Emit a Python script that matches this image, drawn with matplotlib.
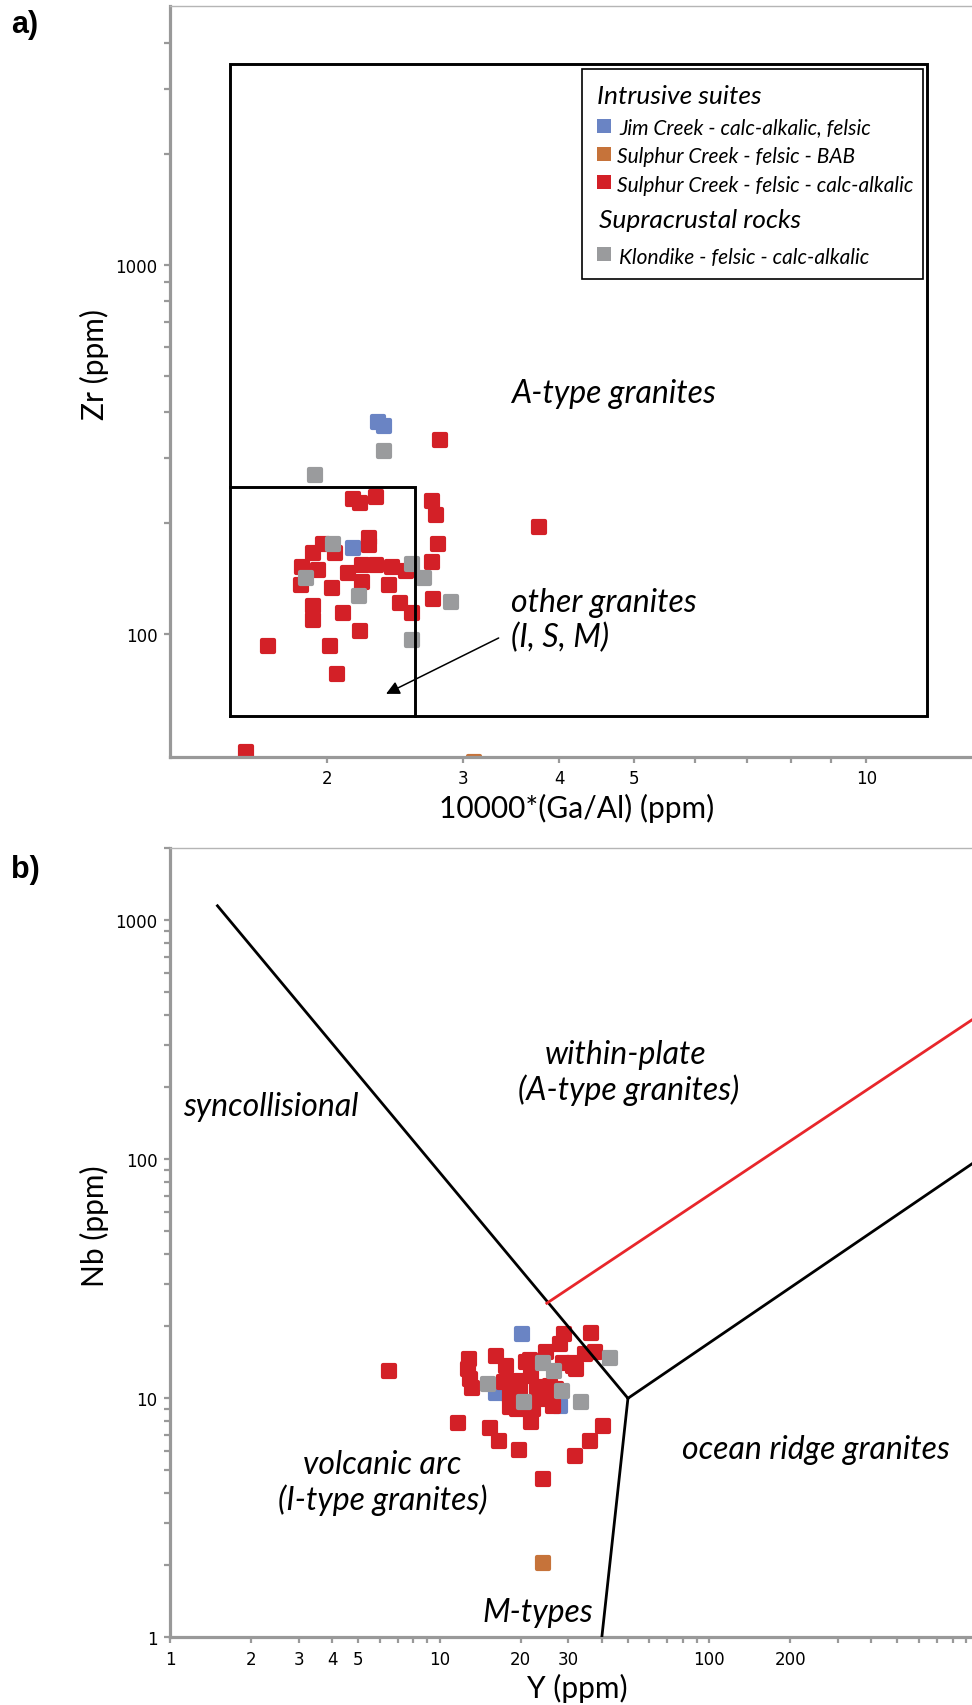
import matplotlib
matplotlib.use('Agg')
import matplotlib.pyplot as plt
from matplotlib.markers import MarkerStyle
from matplotlib.patches import Rectangle
from matplotlib.lines import Line2D
from matplotlib.ticker import NullFormatter

W, H = 972, 1706

# colores de cada grupo
c_jim = '#6A84C4'
c_bab = '#C6733A'
c_calc = '#D32027'
c_klon = '#9A9B9D'
gris_eje = '#999999'

# ---------------- panel a: Zr vs 10000*Ga/Al ----------------
a_jim_x = [2.33, 2.37, 2.16]
a_jim_y = [375, 366, 171]
a_bab_x = [3.10]
a_bab_y = [45]
a_calc_x = [2.80, 2.16, 2.21, 2.32, 2.74, 2.77, 2.27, 2.27, 1.98, 1.92, 2.05, 2.79,
            2.74, 1.86, 1.95, 2.13, 2.22, 2.32, 2.43, 2.53, 1.85, 2.03, 2.22, 2.41,
            2.49, 2.58, 2.75, 1.92, 1.92, 2.10, 2.21, 2.02, 1.68, 2.06, 1.57, 3.77]
a_calc_y = [336, 232, 226, 235, 229, 210, 182, 174, 175, 166, 166, 175,
            157, 152, 149, 146, 154, 154, 152, 148, 136, 133, 138, 136,
            121, 114, 124, 119, 109, 114, 102, 93, 93, 78, 48, 195]
a_klon_x = [2.375, 1.93, 2.04, 1.88, 2.20, 2.58, 2.67, 2.90, 2.58]
a_klon_y = [313, 269, 175, 142, 127, 155, 142, 122, 96.5]

# campos de Whalen
caja_grande_x = [1.5, 12, 12, 1.5, 1.5]
caja_grande_y = [60, 60, 3500, 3500, 60]
caja_chica_x = [1.5, 2.6, 2.6]
caja_chica_y = [250, 250, 60]

# ---------------- panel b: Nb vs Y ----------------
b_jim_x = [20.3, 16.2, 27.9]
b_jim_y = [18.5, 10.5, 9.26]
b_bab_x = [24.2]
b_bab_y = [2.05]
b_calc_x = [6.48, 36.4, 29.0, 27.9, 37.6, 12.9, 12.7, 13.0, 13.2, 16.2, 17.6, 20.9,
            21.6, 24.9, 31.3, 34.6, 32.2, 28.7, 31.3, 17.4, 19.3, 21.9, 22.9, 25.6,
            27.1, 19.8, 23.4, 18.2, 18.2, 19.3, 22.2, 24.9, 26.35, 21.9, 11.7, 15.4,
            16.6, 19.65, 40.4, 36.1, 31.9, 24.2]
b_calc_y = [13.05, 18.8, 18.6, 16.9, 15.6, 14.6, 13.3, 12.0, 11.0, 15.0, 13.7, 14.2,
            14.4, 15.6, 14.1, 15.3, 13.3, 14.1, 13.7, 11.7, 11.85, 12.4, 11.1, 11.3,
            10.9, 10.8, 10.4, 10.25, 9.17, 9.0, 9.02, 9.93, 9.31, 7.94, 7.88, 7.49,
            6.65, 6.09, 7.68, 6.65, 5.72, 4.59]
b_klon_x = [42.8, 15.1, 24.1, 26.5, 20.5, 28.55, 33.6]
b_klon_y = [14.8, 11.5, 14.1, 13.05, 9.62, 10.76, 9.62]

# limites de Pearce et al.
linea_syncol_x = [1.5, 50]
linea_syncol_y = [1150, 10]
linea_orv_x = [50, 40]
linea_orv_y = [10, 1]
linea_wpg_x = [50, 1000]
linea_wpg_y = [10, 100]
linea_roja_x = [25, 1000]
linea_roja_y = [25, 400]


def fig_xy(px, py):
    return px / W, 1 - py / H


cuadro = MarkerStyle('s', joinstyle='round')


def puntos(ax, x, y, color):
    ax.plot(x, y, ls='none', marker=cuadro, ms=9, mew=3, color=color, mec=color,
            zorder=2, clip_on=True)


def estilo_ejes(ax):
    for s in ['left', 'bottom']:
        ax.spines[s].set_color(gris_eje)
        ax.spines[s].set_linewidth(2.3)
    ax.spines['top'].set_color('#b5b5b5')
    ax.spines['top'].set_linewidth(1.0)
    ax.spines['right'].set_visible(False)
    ax.tick_params(which='both', direction='out', length=4, width=1.6, color=gris_eje,
                   labelsize=12, labelcolor='black', pad=5)
    ax.xaxis.set_minor_formatter(NullFormatter())
    ax.yaxis.set_minor_formatter(NullFormatter())


fig = plt.figure(figsize=(W / 100, H / 100), dpi=100)

# ======================= panel a =======================
ax_a = fig.add_axes([170 / W, 1 - 758 / H, (W - 170) / W, (758 - 7) / H])
ax_a.set_xscale('log')
ax_a.set_yscale('log')
ax_a.set_xlim(1.253, 13.71)
ax_a.set_ylim(46.4, 5030)

puntos(ax_a, a_jim_x, a_jim_y, c_jim)
puntos(ax_a, a_bab_x, a_bab_y, c_bab)
puntos(ax_a, a_calc_x, a_calc_y, c_calc)
puntos(ax_a, a_klon_x, a_klon_y, c_klon)

ax_a.plot(caja_grande_x, caja_grande_y, color='black', lw=2.1, zorder=3,
          solid_joinstyle='miter')
ax_a.plot(caja_chica_x, caja_chica_y, color='black', lw=2.1, zorder=3,
          solid_joinstyle='miter')

ax_a.set_xticks([2, 3, 4, 5, 10], ['2', '3', '4', '5', '10'])
ax_a.set_xticks([6, 7, 8, 9], minor=True)
ax_a.set_yticks([100, 1000], ['100', '1000'])
ax_a.set_yticks([200, 300, 400, 500, 600, 700, 800, 900, 2000, 3000, 4000], minor=True)
estilo_ejes(ax_a)

tf = dict(family='Lato', style='italic', size=23, color='black')
ax_a.text(3.47, 450, 'A-type granites', ha='left', va='center', **tf)
ax_a.text(3.47, 122, 'other granites', ha='left', va='center', **tf)
ax_a.text(3.47, 98, '(I, S, M)', ha='left', va='center', **tf)
ax_a.annotate('', xy=(2.387, 68.8), xytext=(3.34, 97.5),
              arrowprops=dict(arrowstyle='-|>', color='black', lw=1.1,
                              mutation_scale=20, shrinkA=0, shrinkB=0), zorder=4)

# leyenda dibujada a mano
x0, y0 = fig_xy(581.7, 280)
fig.add_artist(Rectangle((x0, y0), (922.7 - 581.7) / W, (280 - 70) / H,
                         transform=fig.transFigure, facecolor='white',
                         edgecolor='black', lw=1.2, zorder=5))
fig.text(*fig_xy(597, 104), 'Intrusive suites', family='Lato', style='italic',
         size=19, va='baseline', zorder=6)
fig.text(*fig_xy(598.7, 228.3), 'Supracrustal rocks', family='Lato', style='italic',
         size=19, va='baseline', zorder=6)
entradas = [(c_jim, 'Jim Creek - calc-alkalic, felsic', 127, 134.3, 619.3),
            (c_bab, 'Sulphur Creek - felsic - BAB', 154.7, 163.3, 617),
            (c_calc, 'Sulphur Creek - felsic - calc-alkalic', 183.3, 191.7, 617),
            (c_klon, 'Klondike - felsic - calc-alkalic', 254.7, 264, 619.3)]
for col, etiqueta, ym, yb, xt in entradas:
    fx, fy = fig_xy(604.3, ym)
    fig.add_artist(Line2D([fx], [fy], transform=fig.transFigure, ls='none',
                          marker=MarkerStyle('s', joinstyle='miter'), ms=10.5, mew=0,
                          color=col, zorder=6))
    fig.text(*fig_xy(xt, yb), etiqueta, family='Lato', style='italic', size=15,
             va='baseline', zorder=6)

# ======================= panel b =======================
ax_b = fig.add_axes([170 / W, 1 - 1638.3 / H, (W - 170) / W, (1638.3 - 849) / H])
ax_b.set_xscale('log')
ax_b.set_yscale('log')
ax_b.set_xlim(1, 945)
ax_b.set_ylim(1, 2007)

puntos(ax_b, b_jim_x, b_jim_y, c_jim)
puntos(ax_b, b_bab_x, b_bab_y, c_bab)
puntos(ax_b, b_calc_x, b_calc_y, c_calc)
puntos(ax_b, b_klon_x, b_klon_y, c_klon)

for lx, ly in [(linea_syncol_x, linea_syncol_y), (linea_orv_x, linea_orv_y),
               (linea_wpg_x, linea_wpg_y)]:
    ax_b.plot(lx, ly, color='black', lw=2.0, zorder=3)
ax_b.plot(linea_roja_x, linea_roja_y, color='#E8262B', lw=2.0, zorder=3)

ax_b.set_xticks([1, 2, 3, 4, 5, 10, 20, 30, 100, 200],
                ['1', '2', '3', '4', '5', '10', '20', '30', '100', '200'])
ax_b.set_xticks([6, 7, 8, 9, 40, 50, 60, 70, 80, 90, 300, 400, 500, 600, 700, 800, 900],
                minor=True)
ax_b.set_yticks([1, 10, 100, 1000], ['1', '10', '100', '1000'])
ax_b.set_yticks([2, 3, 4, 5, 6, 7, 8, 9, 20, 30, 40, 50, 60, 70, 80, 90,
                 200, 300, 400, 500, 600, 700, 800, 900, 2000], minor=True)
estilo_ejes(ax_b)

ax_b.text(1.12, 167.6, 'syncollisional', ha='left', va='center', **tf)
ax_b.text(49.1, 275.8, 'within-plate', ha='center', va='center', **tf)
ax_b.text(50.4, 197, '(A-type granites)', ha='center', va='center', **tf)
ax_b.text(79.6, 6.14, 'ocean ridge granites', ha='left', va='center', **tf)
ax_b.text(6.14, 5.31, 'volcanic arc', ha='center', va='center', **tf)
ax_b.text(6.14, 3.79, '(I-type granites)', ha='center', va='center', **tf)
ax_b.text(23.2, 1.276, 'M-types', ha='center', va='center', **tf)

# rotulos de ejes y de paneles
fl = dict(family='Lato', size=21.5, color='black')
fig.text(*fig_xy(577, 808), '10000*(Ga/Al) (ppm)', ha='center', va='center', **fl)
fig.text(*fig_xy(577, 1688), 'Y (ppm)', ha='center', va='center', **fl)
fig.text(*fig_xy(94, 365), 'Zr (ppm)', ha='center', va='center', rotation=90, **fl)
fig.text(*fig_xy(94, 1226), 'Nb (ppm)', ha='center', va='center', rotation=90, **fl)
fig.text(*fig_xy(11, 25), 'a)', family='Liberation Sans', weight='bold', size=22,
         ha='left', va='center')
fig.text(*fig_xy(11, 870), 'b)', family='Liberation Sans', weight='bold', size=22,
         ha='left', va='center')

fig.savefig('out.png', dpi=100)
